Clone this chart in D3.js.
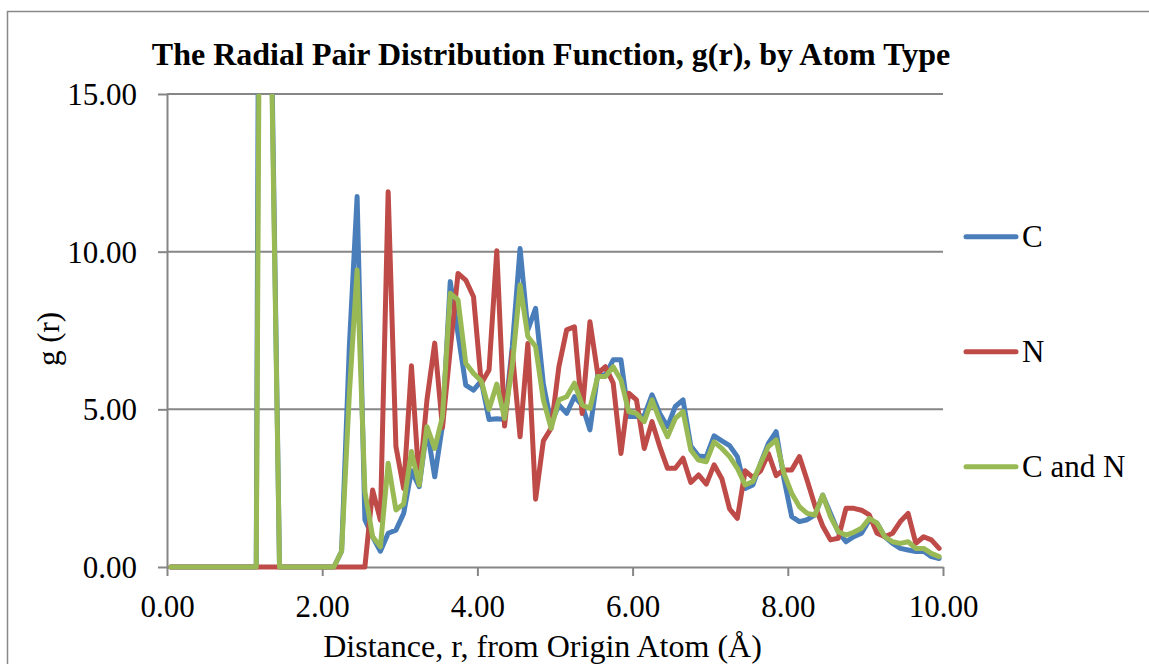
<!DOCTYPE html>
<meta charset="utf-8">
<script src="https://cdn.jsdelivr.net/npm/d3@7"></script>
<style>
body {
  margin: 0;
  background: #fff;
}
text {
  font-family: "Liberation Serif", "Times New Roman", serif;
  fill: #000;
}
.axis path,
.axis line {
  fill: none;
  stroke: #868686;
  stroke-width: 2px;
}
.grid line {
  stroke: #868686;
  stroke-width: 2px;
}
.series {
  fill: none;
  stroke-width: 5px;
  stroke-linejoin: round;
  stroke-linecap: round;
}
</style>
<body>
<script>

// bin centres, r (Angstrom)
var distance = [
  0.05, 0.15, 0.25, 0.35, 0.45, 0.55, 0.65, 0.75, 0.85, 0.95,
  1.05, 1.15, 1.25, 1.35, 1.45, 1.55, 1.65, 1.75, 1.85, 1.95,
  2.05, 2.15, 2.25, 2.35, 2.45, 2.55, 2.65, 2.75, 2.85, 2.95,
  3.05, 3.15, 3.25, 3.35, 3.45, 3.55, 3.65, 3.75, 3.85, 3.95,
  4.05, 4.15, 4.25, 4.35, 4.45, 4.55, 4.65, 4.75, 4.85, 4.95,
  5.05, 5.15, 5.25, 5.35, 5.45, 5.55, 5.65, 5.75, 5.85, 5.95,
  6.05, 6.15, 6.25, 6.35, 6.45, 6.55, 6.65, 6.75, 6.85, 6.95,
  7.05, 7.15, 7.25, 7.35, 7.45, 7.55, 7.65, 7.75, 7.85, 7.95,
  8.05, 8.15, 8.25, 8.35, 8.45, 8.55, 8.65, 8.75, 8.85, 8.95,
  9.05, 9.15, 9.25, 9.35, 9.45, 9.55, 9.65, 9.75, 9.85, 9.95
];

// g(r) for C
var gC = [
  0, 0, 0, 0, 0, 0, 0, 0, 0, 0,
  0, 0, 62.0, 16.2, 0, 0, 0, 0, 0, 0,
  0, 0, 0.50, 7.00, 11.75, 1.50, 0.96, 0.50, 1.07, 1.17,
  1.70, 3.05, 2.55, 4.40, 2.86, 4.50, 9.05, 7.40, 5.77, 5.61,
  5.90, 4.68, 4.70, 4.68, 7.00, 10.10, 7.52, 8.20, 5.80, 4.56,
  5.14, 4.87, 5.40, 5.14, 4.35, 6.09, 6.09, 6.57, 6.57, 4.77,
  4.77, 4.80, 5.46, 4.87, 4.45, 5.09, 5.30, 3.84, 3.52, 3.50,
  4.16, 4.00, 3.85, 3.50, 2.49, 2.60, 3.29, 3.92, 4.29, 2.80,
  1.60, 1.44, 1.50, 1.65, 2.28, 1.70, 1.12, 0.80, 0.96, 1.07,
  1.49, 1.39, 0.96, 0.75, 0.59, 0.54, 0.49, 0.50, 0.33, 0.27
];

// g(r) for N
var gN = [
  0, 0, 0, 0, 0, 0, 0, 0, 0, 0,
  0, 0, 0, 0, 0, 0, 0, 0, 0, 0,
  0, 0, 0, 0, 0, 0, 2.44, 1.49, 11.90, 3.82,
  2.49, 6.38, 2.65, 5.30, 7.10, 4.42, 6.90, 9.31, 9.10, 8.57,
  5.82, 6.25, 10.03, 4.47, 6.83, 4.13, 7.09, 2.15, 4.00, 4.40,
  6.35, 7.52, 7.62, 4.87, 7.78, 6.14, 6.35, 5.83, 3.60, 5.51,
  5.30, 3.76, 4.61, 3.82, 3.13, 3.13, 3.45, 2.68, 2.92, 2.63,
  3.24, 2.80, 1.84, 1.54, 3.05, 2.84, 3.05, 3.60, 2.90, 3.08,
  3.08, 3.50, 2.74, 1.94, 1.30, 0.86, 0.91, 1.86, 1.86, 1.80,
  1.65, 1.07, 0.96, 1.07, 1.44, 1.70, 0.75, 0.96, 0.86, 0.59
];

// g(r) for C and N together
var gCN = [
  0, 0, 0, 0, 0, 0, 0, 0, 0, 0,
  0, 0, 45.0, 15.6, 0, 0, 0, 0, 0, 0,
  0, 0, 0.50, 5.50, 9.42, 2.40, 0.96, 0.64, 3.29, 1.81,
  2.00, 3.66, 2.60, 4.45, 3.76, 4.77, 8.68, 8.47, 6.46, 6.14,
  5.90, 5.00, 5.80, 4.71, 6.40, 8.94, 7.31, 6.99, 5.30, 4.40,
  5.30, 5.40, 5.83, 5.14, 5.03, 6.04, 6.04, 6.35, 5.93, 4.93,
  4.87, 4.61, 5.30, 4.66, 4.13, 4.71, 4.93, 3.71, 3.39, 3.34,
  3.97, 3.76, 3.50, 3.13, 2.60, 2.71, 3.29, 3.82, 4.03, 2.97,
  2.34, 1.91, 1.70, 1.65, 2.28, 1.60, 1.12, 1.01, 1.10, 1.23,
  1.54, 1.39, 0.96, 0.80, 0.75, 0.80, 0.59, 0.59, 0.43, 0.33
];

var seriesNames = ["C", "N", "C and N"];
var seriesColors = ["#4a7ebb", "#be4b48", "#98b954"];
var xTicks = [0, 2, 4, 6, 8, 10];
var yTicks = [0, 5, 10, 15];

var margin = {top: 94, right: 206, bottom: 97, left: 167},
    width = 1149 - margin.left - margin.right,
    height = 664 - margin.top - margin.bottom;

var x = d3.scaleLinear().domain([0, 10]).range([0, width]);
var y = d3.scaleLinear().domain([0, 15]).range([height, 0]);

var root = d3.select("body").append("svg")
    .attr("width", 1149)
    .attr("height", 664);

// chart area frame
root.append("rect")
    .attr("x", 7.5)
    .attr("y", 11.5)
    .attr("width", 1160)
    .attr("height", 680)
    .style("fill", "#fff")
    .style("stroke", "#898989")
    .style("stroke-width", 1.5);

var svg = root.append("g")
    .attr("transform", "translate(" + margin.left + "," + margin.top + ")");

svg.append("clipPath")
    .attr("id", "plotclip")
  .append("rect")
    .attr("x", -10)
    .attr("y", 0)
    .attr("width", width + 20)
    .attr("height", height + 20);

// horizontal gridlines
svg.append("g")
    .attr("class", "grid")
  .selectAll("line")
    .data(yTicks.slice(1))
  .enter().append("line")
    .attr("x1", 0)
    .attr("x2", width)
    .attr("y1", function(d) { return y(d); })
    .attr("y2", function(d) { return y(d); });

// axes
var xAxis = svg.append("g")
    .attr("class", "x axis")
    .attr("transform", "translate(0," + height + ")")
    .call(d3.axisBottom(x).tickValues(xTicks).tickSize(9).tickSizeOuter(0).tickFormat(d3.format(".2f")));
xAxis.selectAll("text")
    .attr("y", 50)
    .attr("dy", 0)
    .style("font-size", "31px")
    .style("font-family", "Liberation Serif");

var yAxis = svg.append("g")
    .attr("class", "y axis")
    .call(d3.axisLeft(y).tickValues(yTicks).tickSize(9).tickSizeOuter(0).tickFormat(d3.format(".2f")));
yAxis.selectAll("text")
    .attr("x", -30)
    .attr("dy", 10.5)
    .style("font-size", "31px")
    .style("font-family", "Liberation Serif");

// series lines
var series = [gC, gN, gCN];
var line = d3.line()
    .x(function(d, i) { return x(distance[i]); })
    .y(function(d) { return y(d); });

svg.append("g")
    .attr("clip-path", "url(#plotclip)")
  .selectAll(".series")
    .data(series)
  .enter().append("path")
    .attr("class", "series")
    .attr("d", line)
    .style("stroke", function(d, i) { return seriesColors[i]; });

// legend
var legend = root.selectAll(".legend")
    .data(seriesNames)
  .enter().append("g")
    .attr("class", "legend")
    .attr("transform", function(d, i) { return "translate(964," + (236.7 + i * 115) + ")"; });
legend.append("line")
    .attr("x1", 2)
    .attr("x2", 52)
    .style("stroke", function(d, i) { return seriesColors[i]; })
    .style("stroke-width", 5)
    .style("stroke-linecap", "round");
legend.append("text")
    .attr("x", 58)
    .attr("y", 10)
    .style("font-size", "31px")
    .text(function(d) { return d; });

// titles
root.append("text")
    .attr("x", 551)
    .attr("y", 65)
    .attr("text-anchor", "middle")
    .style("font-size", "32px")
    .style("font-weight", "bold")
    .text("The Radial Pair Distribution Function, g(r), by Atom Type");

root.append("text")
    .attr("x", 542.5)
    .attr("y", 657)
    .attr("text-anchor", "middle")
    .style("font-size", "32px")
    .text("Distance, r, from Origin Atom (\u00c5)");

root.append("text")
    .attr("transform", "translate(59,339) rotate(-90)")
    .attr("text-anchor", "middle")
    .style("font-size", "31px")
    .text("g (r)");

</script>
</body>
